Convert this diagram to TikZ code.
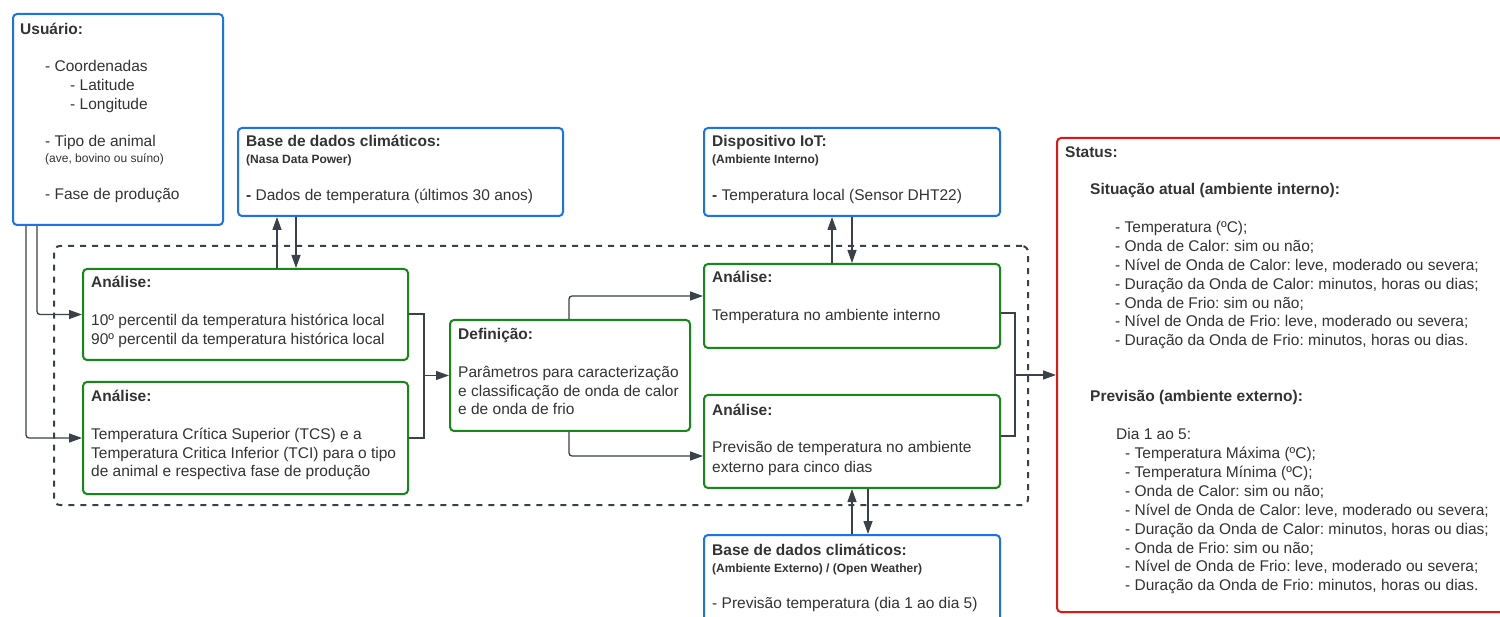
\documentclass[tikz,border=0pt]{standalone}
\usepackage{fontspec}
\setmainfont{Liberation Sans}
\usetikzlibrary{arrows.meta,calc}
\definecolor{lblue}{HTML}{1A73E8}
\definecolor{lgreen}{HTML}{138A17}
\definecolor{lred}{HTML}{E81313}
\definecolor{ink}{HTML}{333333}
\definecolor{wire}{HTML}{3A414A}
\frenchspacing
\begin{document}
\begin{tikzpicture}[x=1pt,y=-1pt,
  box/.style={draw, line width=2pt, rounded corners=4pt, inner sep=0pt, anchor=north west},
  bluebox/.style={box, draw=lblue},
  greenbox/.style={box, draw=lgreen},
  redbox/.style={box, draw=lred},
  txt/.style={anchor=base west, inner sep=0pt, text=ink, font=\fontsize{15.5}{18}\selectfont},
  hd/.style={txt, font=\fontsize{15.5}{18}\selectfont\bfseries},
  sm/.style={txt, font=\fontsize{12}{14}\selectfont},
  smb/.style={txt, font=\fontsize{12}{14}\selectfont\bfseries},
  conn/.style={draw=wire, line width=1.3pt, rounded corners=3pt, -{Triangle[length=13pt,width=9pt]}},
  bracket/.style={draw=wire, line width=2pt},
]
\useasboundingbox (0,0) rectangle (1500,617);
\clip (0,0) rectangle (1500,617);
\fill[white] (0,0) rectangle (1500,617);

% dashed processing frame
\node[draw=wire, dash pattern=on 6pt off 6pt, line width=2pt, rounded corners=6pt,
      anchor=north west, inner sep=0pt, minimum width=974pt, minimum height=259pt] (frame) at (53,245) {};

% boxes
\node[bluebox, minimum width=210pt, minimum height=211pt] (user) at (12,13) {};
\node[bluebox, minimum width=325pt, minimum height=88pt] (nasa) at (237,127) {};
\node[bluebox, minimum width=296pt, minimum height=88pt] (iot) at (703,127) {};
\node[bluebox, minimum width=296pt, minimum height=100pt] (ext) at (703,534) {};
\node[greenbox, minimum width=325pt, minimum height=91pt] (a1) at (82,268) {};
\node[greenbox, minimum width=325pt, minimum height=112pt] (a2) at (82,381) {};
\node[greenbox, minimum width=240pt, minimum height=111pt] (def) at (449,319) {};
\node[greenbox, minimum width=296pt, minimum height=84pt] (a3) at (703,263) {};
\node[greenbox, minimum width=296pt, minimum height=93pt] (a4) at (703,394) {};
\node[redbox, minimum width=470pt, minimum height=474pt] (status) at (1056,137) {};

% user box text
\node[hd] (u0) at (20,35) {Usuário:};
\node[txt] (u1) at (45,72) {- Coordenadas};
\node[txt] (u2) at (70,91) {- Latitude};
\node[txt] (u3) at (70,110) {- Longitude};
\node[txt] (u4) at (45,147) {- Tipo de animal};
\node[sm] (u5) at (45,163) {(ave, bovino ou suíno)};
\node[txt] (u6) at (45,200) {- Fase de produção};

% historical climate data
\node[hd] (n0) at (246,147) {Base de dados climáticos:};
\node[smb] (n1) at (246,164) {(Nasa Data Power)};
\node[txt] (n2) at (246,201) {{\bfseries -} Dados de temperatura (últimos 30 anos)};

% IoT device
\node[hd] (i0) at (712,147) {Dispositivo IoT:};
\node[smb] (i1t) at (712,164) {(Ambiente Interno)};
\node[txt] (i2t) at (712,201) {{\bfseries -} Temperatura local (Sensor DHT22)};

% forecast data
\node[hd] (e0) at (712,555) {Base de dados climáticos:};
\node[smb] (e1) at (712,572) {(Ambiente Externo) / (Open Weather)};
\node[txt] (e2) at (712,608) {- Previsão temperatura (dia 1 ao dia 5)};

% analyses
\node[hd] (a1t0) at (91,288) {Análise:};
\node[txt] (a1t1) at (91,326) {10º percentil da temperatura histórica local};
\node[txt] (a1t2) at (91,345) {90º percentil da temperatura histórica local};

\node[hd] (a2t0) at (91,402) {Análise:};
\node[txt] (a2t1) at (91,440) {Temperatura Crítica Superior (TCS) e a};
\node[txt] (a2t2) at (91,459) {Temperatura Critica Inferior (TCI) para o tipo};
\node[txt] (a2t3) at (91,477) {de animal e respectiva fase de produção};

\node[hd] (d0) at (458,340) {Definição:};
\node[txt] (d1) at (458,378) {Parâmetros para caracterização};
\node[txt] (d2) at (458,397) {e classificação de onda de calor};
\node[txt] (d3) at (458,415) {e de onda de frio};

\node[hd] (a3t0) at (712,283) {Análise:};
\node[txt] (a3t1) at (712,321) {Temperatura no ambiente interno};

\node[hd] (a4t0) at (712,416) {Análise:};
\node[txt] (a4t1) at (712,453) {Previsão de temperatura no ambiente};
\node[txt] (a4t2) at (712,472) {externo para cinco dias};

% status
\node[hd] (s0) at (1065,158) {Status:};
\node[hd] (s1) at (1090,195) {Situação atual (ambiente interno):};
\foreach \t [count=\i] in {
  {- Temperatura (ºC);},
  {- Onda de Calor: sim ou não;},
  {- Nível de Onda de Calor: leve, moderado ou severa;},
  {- Duração da Onda de Calor: minutos, horas ou dias;},
  {- Onda de Frio: sim ou não;},
  {- Nível de Onda de Frio: leve, moderado ou severa;},
  {- Duração da Onda de Frio: minutos, horas ou dias.}}
  \node[txt] (sa\i) at (1115,{233+18.8*(\i-1)}) {\t};
\node[hd] (s2) at (1090,402) {Previsão (ambiente externo):};
\node[txt] (s3) at (1116,440) {Dia 1 ao 5:};
\foreach \t [count=\i] in {
  {- Temperatura Máxima (ºC);},
  {- Temperatura Mínima (ºC);},
  {- Onda de Calor: sim ou não;},
  {- Nível de Onda de Calor: leve, moderado ou severa;},
  {- Duração da Onda de Calor: minutos, horas ou dias;},
  {- Onda de Frio: sim ou não;},
  {- Nível de Onda de Frio: leve, moderado ou severa;},
  {- Duração da Onda de Frio: minutos, horas ou dias.}}
  \node[txt] (sb\i) at (1125,{459+18.8*(\i-1)}) {\t};

% user inputs
\draw[conn] ([xshift=14pt]user.south west) |- (a2.west);
\draw[conn] ([xshift=25pt]user.south west) |- (a1.west);

% historical data exchange
\coordinate (h1) at ([xshift=195pt]a1.north west);
\coordinate (h2) at ([xshift=214pt]a1.north west);
\draw[conn] (h1) -- (h1 |- nasa.south);
\draw[conn] (h2 |- nasa.south) -- (h2);

% merge of the two analyses into the definition
\coordinate (j1) at ($(a1.east |- def.west)+(15,0)$);
\draw[bracket] (a1.east) -| (j1) |- (a2.east);
\draw[conn] (j1) -- (def.west);

% definition feeds both analyses on the right
\draw[conn] ([xshift=120pt]def.north west) |- ([yshift=-33pt]a3.north west);
\draw[conn] ([xshift=120pt]def.south west) |- ([yshift=-62pt]a4.north west);

% IoT exchange
\coordinate (t1) at ([xshift=129pt]a3.north west);
\coordinate (t2) at ([xshift=149pt]a3.north west);
\draw[conn] (t1) -- (t1 |- iot.south);
\draw[conn] (t2 |- iot.south) -- (t2);

% forecast exchange
\coordinate (b1) at ([xshift=149pt]a4.south west);
\coordinate (b2) at ([xshift=165pt]a4.south west);
\draw[conn] (b1 |- ext.north) -- (b1);
\draw[conn] (b2) -- (b2 |- ext.north);

% merge into status
\coordinate (r1) at ([yshift=-50pt]a3.north east);
\coordinate (r2) at ([yshift=-42pt]a4.north east);
\coordinate (j2) at ($(r1 |- status.west)+(14,0)$);
\draw[bracket] (r1) -| (j2) |- (r2);
\draw[conn] (j2) -- (status.west);
\end{tikzpicture}
\end{document}
